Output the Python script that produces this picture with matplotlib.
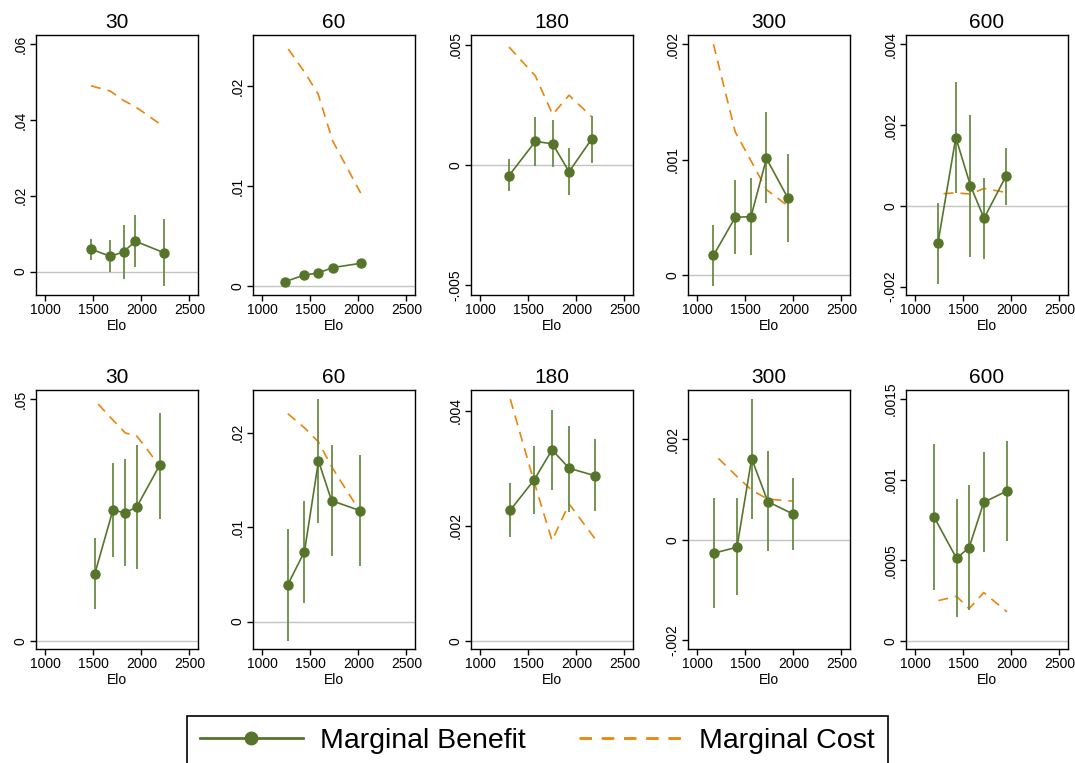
import numpy as np
import matplotlib.pyplot as plt
from matplotlib.lines import Line2D
from matplotlib.patches import Rectangle

plt.rcParams['font.family'] = ['Liberation Sans', 'DejaVu Sans']

# time controls, top row then bottom row
titles = ["30", "60", "180", "300", "600", "30", "60", "180", "300", "600"]

benefit_elo = [
    [1476, 1677, 1816, 1937, 2240],
    [1235, 1439, 1581, 1733, 2024],
    [1299, 1573, 1753, 1924, 2160],
    [1168, 1395, 1559, 1720, 1941],
    [1235, 1422, 1574, 1716, 1945],
    [1516, 1703, 1834, 1952, 2190],
    [1265, 1439, 1585, 1721, 2014],
    [1312, 1562, 1747, 1924, 2191],
    [1171, 1413, 1566, 1734, 2000],
    [1197, 1429, 1560, 1713, 1955],
]
benefit = [
    [0.0059, 0.0040, 0.0052, 0.0080, 0.0049],
    [0.00043, 0.0011, 0.0013, 0.00184, 0.00227],
    [-0.00044, 0.00098, 0.00088, -0.00028, 0.00108],
    [0.00017, 0.00050, 0.000506, 0.00101, 0.00067],
    [-0.00093, 0.00169, 0.00050, -0.00031, 0.00074],
    [0.0139, 0.0270, 0.0265, 0.0277, 0.0363],
    [0.0039, 0.0074, 0.0170, 0.0128, 0.01175],
    [0.00227, 0.0028, 0.00332, 0.0030, 0.00287],
    [-0.000265, -0.000146, 0.001616, 0.00076, 0.00051],
    [0.000767, 0.000512, 0.000579, 0.00086, 0.00093],
]
ci_low = [
    [0.0030, 0.0000, -0.0020, 0.0011, -0.0038],
    [0.00025, 0.0008, 0.0010, 0.0015, 0.0020],
    [-0.0011, -0.00003, -0.00007, -0.00124, 0.0001],
    [-0.000095, 0.00018, 0.00017, 0.00062, 0.00029],
    [-0.00194, 0.00032, -0.00126, -0.00132, 0.00003],
    [0.0065, 0.0173, 0.0154, 0.0148, 0.0253],
    [-0.00205, 0.0020, 0.0104, 0.0069, 0.0059],
    [0.0018, 0.00221, 0.00262, 0.00223, 0.00225],
    [-0.00136, -0.0011, 0.00042, -0.00022, -0.00021],
    [0.000316, 0.00015, 0.00019, 0.00055, 0.00062],
]
ci_high = [
    [0.0087, 0.0082, 0.0123, 0.0149, 0.0138],
    [0.0006, 0.0014, 0.0016, 0.0022, 0.0025],
    [0.00024, 0.00198, 0.00186, 0.00072, 0.00203],
    [0.00043, 0.00082, 0.00084, 0.00141, 0.00105],
    [0.00007, 0.00307, 0.00225, 0.00068, 0.00144],
    [0.0212, 0.0367, 0.0377, 0.0405, 0.0472],
    [0.0098, 0.0128, 0.0236, 0.0187, 0.0176],
    [0.00275, 0.00339, 0.00401, 0.00374, 0.0035],
    [0.00084, 0.00084, 0.0028, 0.00176, 0.00124],
    [0.00122, 0.00088, 0.00097, 0.00117, 0.00124],
]
cost_elo = [
    [1476, 1677, 1816, 1937, 2240],
    [1270, 1439, 1581, 1733, 2024],
    [1299, 1573, 1753, 1924, 2160],
    [1168, 1395, 1559, 1720, 1941],
    [1294, 1422, 1574, 1716, 1945],
    [1550, 1703, 1834, 1952, 2190],
    [1265, 1439, 1585, 1721, 2014],
    [1312, 1562, 1747, 1924, 2191],
    [1220, 1413, 1566, 1734, 2000],
    [1240, 1429, 1560, 1713, 1955],
]
cost = [
    [0.0490, 0.0476, 0.0451, 0.0435, 0.0381],
    [0.0237, 0.0214, 0.0192, 0.0145, 0.0093],
    [0.0049, 0.0037, 0.0021, 0.0029, 0.0020],
    [0.0020, 0.00124, 0.00099, 0.00074, 0.0006],
    [0.00030, 0.00032, 0.00029, 0.00043, 0.00033],
    [0.0490, 0.0457, 0.0430, 0.0424, 0.0362],
    [0.0220, 0.0205, 0.0190, 0.0164, 0.0117],
    [0.0042, 0.00275, 0.00174, 0.00238, 0.00178],
    [0.00162, 0.00126, 0.00099, 0.00081, 0.00077],
    [0.00025, 0.000277, 0.0002, 0.0003, 0.00018],
]
y_ticks = [
    [0, 0.02, 0.04, 0.06],
    [0, 0.01, 0.02],
    [-0.005, 0, 0.005],
    [0, 0.001, 0.002],
    [-0.002, 0, 0.002, 0.004],
    [0, 0.05],
    [0, 0.01, 0.02],
    [0, 0.002, 0.004],
    [-0.002, 0, 0.002],
    [0, 0.0005, 0.001, 0.0015],
]
y_limits = [
    (-0.0062, 0.0624), (-0.0009, 0.0251), (-0.0054, 0.0054),
    (-0.000173, 0.00208), (-0.00221, 0.00423),
    (-0.0017, 0.0519), (-0.0029, 0.0245), (-0.000145, 0.00436),
    (-0.00217, 0.00298), (-0.00005, 0.001556),
]
x_ticks = [1000, 1500, 2000, 2500]

green = '#56752b'
green_ci = '#6a8c45'
orange = '#e8850c'


def stata_label(v):
    s = f"{v:g}"
    return s.replace("0.", ".") if v != 0 else "0"


W, H = 1075, 763
fig = plt.figure(figsize=(W / 100, H / 100), dpi=100)

lefts = [36, 253, 471, 688, 906]
rows = [(35, 295), (390, 649)]

for i in range(10):
    r, c = divmod(i, 5)
    top, bot = rows[r]
    ax = fig.add_axes([lefts[c] / W, (H - bot) / H, 162 / W, (bot - top) / H])
    ax.axhline(0, color='#c4c4c4', lw=1, zorder=1)
    ax.plot(cost_elo[i], cost[i], color=orange, lw=1.2, dashes=(6, 4.2), zorder=2)
    ax.vlines(benefit_elo[i], ci_low[i], ci_high[i], color=green_ci, lw=1.3, zorder=3)
    ax.plot(benefit_elo[i], benefit[i], color=green, lw=1.2, marker='o', ms=6.5, zorder=4)

    ax.set_xlim(903, 2590)
    ax.set_ylim(*y_limits[i])
    ax.set_xticks(x_ticks)
    ax.set_yticks(y_ticks[i], [stata_label(v) for v in y_ticks[i]],
                  rotation=90, va='center')
    ax.tick_params(direction='out', length=4, width=1, labelsize=10, pad=2)
    ax.set_xlabel('Elo', fontsize=10, labelpad=1)
    ax.set_title(titles[i], fontsize=15, pad=5)
    for sp in ax.spines.values():
        sp.set_linewidth(1)
        sp.set_color('black')

# legend box runs off the bottom edge
fig.patches.append(Rectangle((187 / W, -0.05), 701 / W, (763 - 716) / H + 0.05,
                             transform=fig.transFigure, fill=False,
                             edgecolor='black', lw=1.2))
handles = [
    Line2D([], [], color=green, lw=2, marker='o', ms=9),
    Line2D([], [], color=orange, lw=2, dashes=(4.5, 3.5)),
]
fig.legend(handles, ['Marginal Benefit', 'Marginal Cost'], ncol=2,
           loc='center left', bbox_to_anchor=(200 / W, 1 - 741 / H),
           frameon=False, fontsize=20.5, borderpad=0, borderaxespad=0,
           handlelength=3.6, handletextpad=0.6, columnspacing=1.9)

fig.savefig('out.png', dpi=100)
